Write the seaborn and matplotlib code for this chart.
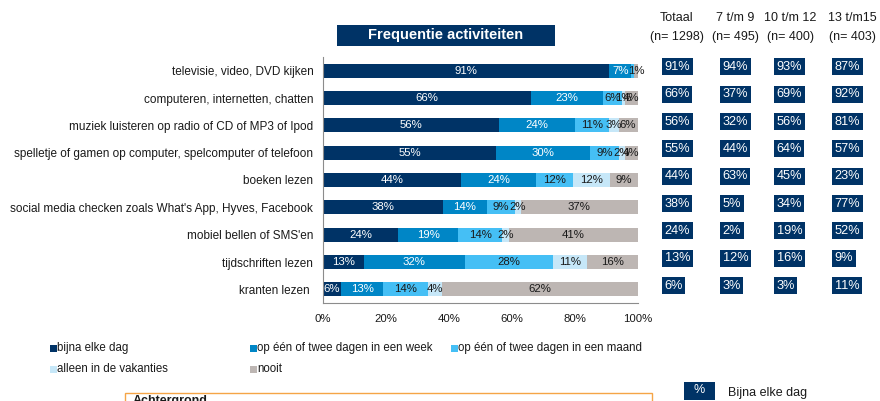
import numpy as np
import pandas as pd
import matplotlib
matplotlib.use("Agg")
import matplotlib.pyplot as plt
from matplotlib.patches import Rectangle
from matplotlib.transforms import blended_transform_factory
import seaborn as sns

# activities (top to bottom)
activities = [
    "televisie, video, DVD kijken",
    "computeren, internetten, chatten",
    "muziek luisteren op radio of CD of MP3 of Ipod",
    "spelletje of gamen op computer, spelcomputer of telefoon",
    "boeken lezen",
    "social media checken zoals What's App, Hyves, Facebook",
    "mobiel bellen of SMS'en",
    "tijdschriften lezen",
    "kranten lezen ",
]

freq_labels = [
    "bijna elke dag",
    "op één of twee dagen in een week",
    "op één of twee dagen in een maand",
    "alleen in de vakanties",
    "nooit",
]

# percentages per frequency
elke_dag = [91, 66, 56, 55, 44, 38, 24, 13, 5.8]
per_week = [7, 23, 24, 30, 23.6, 14, 19, 32, 13.4]
per_maand = [0.8, 6, 11, 9, 12, 9, 14, 28, 14.3]
vakanties = [0.2, 1, 3, 2, 11.6, 2, 2, 11, 4.4]
nooit = [1, 4, 6, 4, 8.8, 37, 41, 16, 62.1]

# right-hand table: "bijna elke dag" per age group
table_headers = ["Totaal", "7 t/m 9", "10 t/m 12", "13 t/m15"]
table_n = ["(n= 1298)", "(n= 495)", "(n= 400)", "(n= 403)"]
totaal = [91, 66, 56, 55, 44, 38, 24, 13, 6]
age_7_9 = [94, 37, 32, 44, 63, 5, 2, 12, 3]
age_10_12 = [93, 69, 56, 64, 45, 34, 19, 16, 3]
age_13_15 = [87, 92, 81, 57, 23, 77, 52, 9, 11]

colors = ["#003366", "#0086C6", "#45BFF5", "#C6E7F8", "#BDB6B3"]
text_colors = ["white", "white", "#1a1a1a", "#1a1a1a", "#1a1a1a"]
navy = "#003366"

sns.set_style("white")
plt.rcParams["font.family"] = ["Liberation Sans", "DejaVu Sans"]

fig = plt.figure(figsize=(8.8, 4.01), dpi=100)
ax = fig.add_axes([323 / 880, 1 - 303 / 401, 314.5 / 880, 246 / 401])

series = [elke_dag, per_week, per_maand, vakanties, nooit]
df = pd.DataFrame({lab: vals for lab, vals in zip(freq_labels, series)}, index=activities)
cum = df.cumsum(axis=1)

# stacked bars: draw cumulative totals from the back to the front
for i in reversed(range(len(freq_labels))):
    sns.barplot(x=cum.iloc[:, i].values, y=activities, orient="h", color=colors[i],
                saturation=1, width=0.52, linewidth=0, errorbar=None, ax=ax)

# segment labels
for i, lab in enumerate(freq_labels):
    for j, v in enumerate(df[lab].values):
        if v < 1:
            continue
        center = cum.iloc[j, i] - v / 2
        ax.text(center, j, f"{v:.0f}%", ha="center", va="center",
                fontsize=8.2, color=text_colors[i])

ax.set_xlim(0, 100)
ax.set_xticks(np.arange(0, 101, 20))
ax.set_xticklabels([f"{t}%" for t in range(0, 101, 20)])
ax.set_ylabel("")
ax.set_xlabel("")
ax.set_yticks(np.arange(-0.5, len(activities), 1), minor=True)
ax.tick_params(axis="y", which="major", length=0, pad=7, labelsize=8.5, labelcolor="#1a1a1a")
ax.tick_params(axis="y", which="minor", length=4, direction="out", color="#8c8c8c", width=0.8)
ax.tick_params(axis="x", length=4, direction="out", color="#8c8c8c", width=0.8, pad=4,
               labelsize=8.2, labelcolor="#1a1a1a")
for side in ["top", "right"]:
    ax.spines[side].set_visible(False)
for side in ["left", "bottom"]:
    ax.spines[side].set_color("#8c8c8c")
    ax.spines[side].set_linewidth(0.8)

# title box
fig.add_artist(Rectangle((337 / 880, 1 - 46 / 401), 218 / 880, 21 / 401,
                         transform=fig.transFigure, facecolor=navy, edgecolor="none"))
fig.text(446 / 880, 1 - 35.5 / 401, "Frequentie activiteiten", ha="center", va="center",
         fontsize=10.5, fontweight="bold", color="white")

# right table
header_x = [677, 735, 790, 852]
box_left = [662, 720, 774, 832]
trans = blended_transform_factory(fig.transFigure, ax.transData)
for k, col in enumerate([totaal, age_7_9, age_10_12, age_13_15]):
    fig.text(header_x[k] / 880, 1 - 18 / 401, table_headers[k], ha="center", va="center",
             fontsize=9, color="#1a1a1a")
    fig.text(header_x[k] / 880, 1 - 37 / 401, table_n[k], ha="center", va="center",
             fontsize=9, color="#1a1a1a")
    for j, v in enumerate(col):
        ax.text((box_left[k] + 2.5) / 880, j - 0.14, f"{v}%", transform=trans,
                ha="left", va="center", fontsize=9.2, color="white", clip_on=False,
                bbox=dict(boxstyle="square,pad=0.2", facecolor=navy, edgecolor="none"))

# legend
legend_pos = [(50, 348), (250, 348), (451, 348), (50, 369), (250, 369)]
for (lx, ly), lab, c in zip(legend_pos, freq_labels, colors):
    fig.add_artist(Rectangle((lx / 880, 1 - (ly + 3.5) / 401), 6.5 / 880, 7 / 401,
                             transform=fig.transFigure, facecolor=c, edgecolor="none"))
    fig.text((lx + 7) / 880, 1 - ly / 401, lab, ha="left", va="center",
             fontsize=8.3, color="#1a1a1a")

# bottom: background box and key
fig.add_artist(Rectangle((125 / 880, 1 - 430 / 401), 527 / 880, 37 / 401,
                         transform=fig.transFigure, facecolor="none",
                         edgecolor="#F5A547", linewidth=1))
fig.text(133 / 880, 1 - 395 / 401, "Achtergrond", ha="left", va="top",
         fontsize=9, fontweight="bold", color="#1a1a1a")
fig.add_artist(Rectangle((684 / 880, 1 - 400 / 401), 31 / 880, 18 / 401,
                         transform=fig.transFigure, facecolor=navy, edgecolor="none"))
fig.text(699.5 / 880, 1 - 390 / 401, "%", ha="center", va="center", fontsize=9, color="white")
fig.text(728 / 880, 1 - 393 / 401, "Bijna elke dag", ha="left", va="center",
         fontsize=9, color="#1a1a1a")

fig.savefig("out.png", dpi=100)
